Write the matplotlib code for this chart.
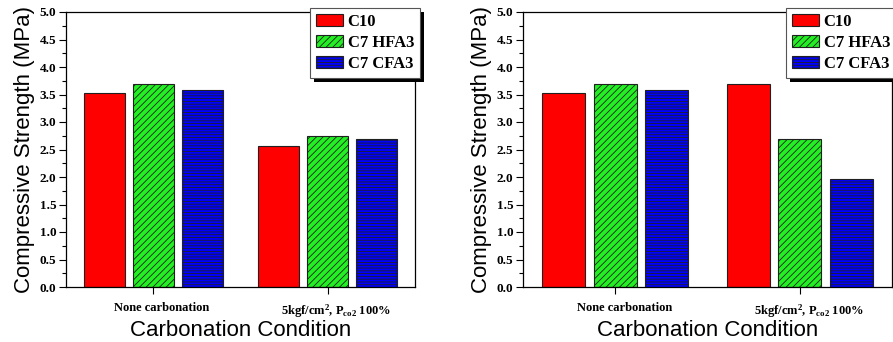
import matplotlib
matplotlib.use("Agg")
import matplotlib.pyplot as plt
import numpy as np
from matplotlib.patches import Rectangle
from matplotlib.ticker import MultipleLocator, FixedLocator, FixedFormatter, NullFormatter

# ---- data ----
conditions = ["None carbonation", "5kgf/cm$^{2}$, P$_{\\mathrm{co2}}$ 100%"]
series = ["C10", "C7 HFA3", "C7 CFA3"]
left_values = {
    "C10": [3.52, 2.57],
    "C7 HFA3": [3.70, 2.75],
    "C7 CFA3": [3.58, 2.70],
}
right_values = {
    "C10": [3.52, 3.70],
    "C7 HFA3": [3.70, 2.70],
    "C7 CFA3": [3.58, 1.97],
}
y_label = "Compressive Strength (MPa)"
x_label = "Carbonation Condition"

colors = {"C10": "#ff0000", "C7 HFA3": "#22f022", "C7 CFA3": "#0000ff"}
hatches = {"C10": None, "C7 HFA3": "/////", "C7 CFA3": "------"}

plt.rcParams["hatch.linewidth"] = 0.6
plt.rcParams["mathtext.fontset"] = "custom"
plt.rcParams["mathtext.rm"] = "Liberation Serif:bold"
plt.rcParams["mathtext.it"] = "Liberation Serif:bold"
plt.rcParams["mathtext.bf"] = "Liberation Serif:bold"

W, H = 893, 342
fig = plt.figure(figsize=(W / 100, H / 100), dpi=100)

serif = dict(family="Liberation Serif", weight="bold")


def make_panel(rect, values):
    ax = fig.add_axes(rect)
    x = np.arange(len(conditions))
    step = 0.28
    width = 0.234
    handles = []
    for i, s in enumerate(series):
        b = ax.bar(x + (i - 1) * step, values[s], width, color=colors[s],
                   edgecolor="#202020", linewidth=0.8, hatch=hatches[s], label=s)
        handles.append(b)
    ax.set_xlim(-0.5, 1.5)
    ax.set_ylim(0, 5.0)
    ax.yaxis.set_minor_locator(MultipleLocator(0.25))
    ticks = np.arange(0, 5.01, 0.5)
    ax.set_yticks(ticks)
    ax.set_yticklabels([f"{v:.1f}" for v in ticks], fontsize=9.5, **serif)
    # major x ticks = marks only; minor x ticks (slightly right) carry the labels
    ax.xaxis.set_major_locator(FixedLocator(x))
    ax.xaxis.set_major_formatter(NullFormatter())
    ax.xaxis.set_minor_locator(FixedLocator(x + 0.05))
    ax.xaxis.set_minor_formatter(FixedFormatter(conditions))
    for lab in ax.xaxis.get_minorticklabels():
        lab.set_fontsize(9)
        lab.set_fontfamily("Liberation Serif")
        lab.set_fontweight("bold")
    ax.tick_params(axis="y", which="major", direction="out", length=5, width=0.8, pad=2)
    ax.tick_params(axis="y", which="minor", direction="out", length=3, width=0.8)
    ax.tick_params(axis="x", which="major", direction="out", length=5, width=0.8)
    ax.tick_params(axis="x", which="minor", length=0, pad=11, labelsize=9)
    for sp in ax.spines.values():
        sp.set_linewidth(0.9)
    ax.set_ylabel(y_label, fontsize=16, family="Liberation Sans", labelpad=3)
    ax.set_xlabel(x_label, fontsize=16, family="Liberation Sans", labelpad=0)
    return ax, handles


axL, hL = make_panel([66 / W, 55 / H, 349 / W, 275 / H], left_values)
axR, hR = make_panel([523 / W, 55 / H, 369 / W, 275 / H], right_values)

for ax in (axL, axR):
    for lab in ax.xaxis.get_minorticklabels():
        lab.set_fontfamily("Liberation Serif")
        lab.set_fontweight("bold")


def add_legend(handles, anchor, loc):
    leg = fig.legend(handles, series, loc=loc, bbox_to_anchor=anchor,
                     bbox_transform=fig.transFigure, fancybox=False, framealpha=1,
                     edgecolor="#555555", borderaxespad=0, borderpad=0.35,
                     handlelength=1.6, handleheight=0.75, handletextpad=0.3,
                     labelspacing=0.3, prop=dict(family="Liberation Serif", weight="bold", size=12))
    leg.get_frame().set_linewidth(0.8)
    leg.set_zorder(10)
    return leg


legL = add_legend(hL, (420 / W, 1 - 8 / H), "upper right")
legR = add_legend(hR, (786 / W, 1 - 8 / H), "upper left")

fig.canvas.draw()
r = fig.canvas.get_renderer()
inv = fig.transFigure.inverted()
for leg in (legL, legR):
    bb = leg.get_window_extent(r)
    (x0, y0) = inv.transform((bb.x0 + 4, bb.y0 - 4))
    (x1, y1) = inv.transform((bb.x1 + 4, bb.y1 - 4))
    fig.add_artist(Rectangle((x0, y0), x1 - x0, y1 - y0, transform=fig.transFigure,
                             facecolor="black", edgecolor="none", zorder=9))

fig.savefig("out.png", dpi=100)
